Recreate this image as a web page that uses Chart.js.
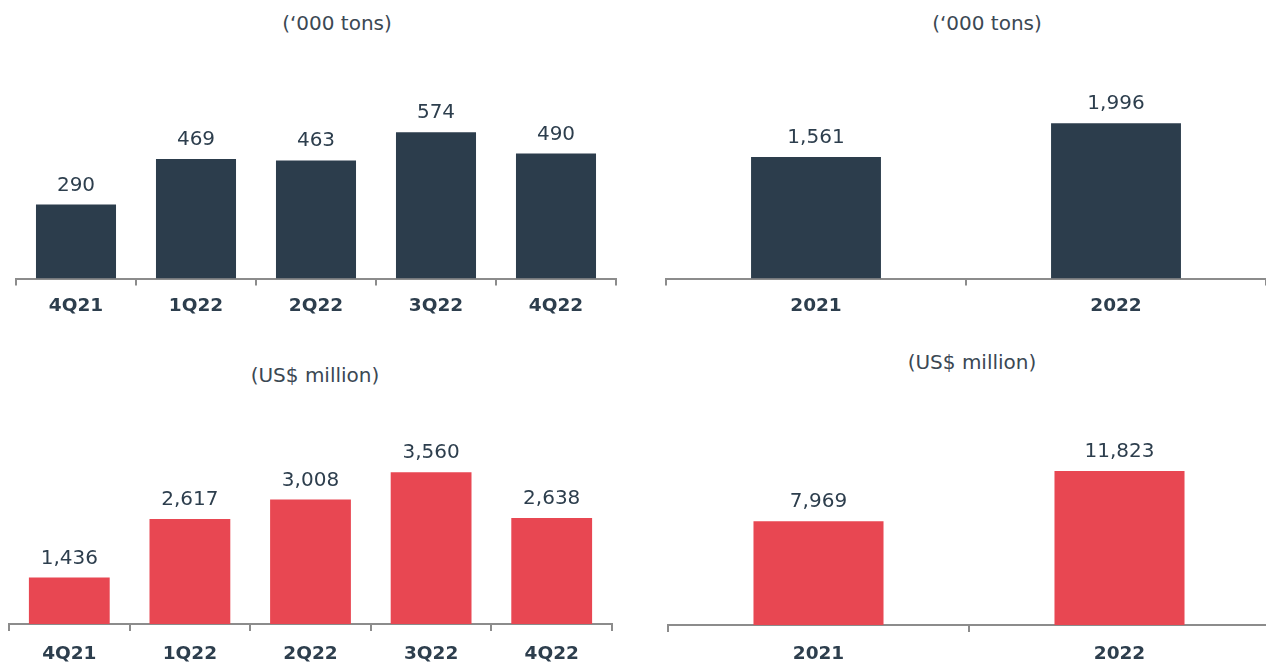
<!DOCTYPE html>
<html>
<head>
<meta charset="utf-8">
<script src="https://cdn.jsdelivr.net/npm/chart.js@4"></script>
<style>
  html, body { margin: 0; padding: 0; background: #fff; overflow: hidden; }
  body { width: 1266px; height: 663px; position: relative; font-family: "DejaVu Sans", sans-serif; }
  .wrap { position: absolute; }
  .title { position: absolute; transform: translate(-50%, -50%); white-space: nowrap; color: #3b4853; font-size: 20px; }
</style>
</head>
<body>
<script>
// ---------- data ----------
const quarters = ['4Q21', '1Q22', '2Q22', '3Q22', '4Q22'];
const years = ['2021', '2022'];
const volumeQuarterly = [290, 469, 463, 574, 490];
const volumeAnnual = [1561, 1996];
const revenueQuarterly = [1436, 2617, 3008, 3560, 2638];
const revenueAnnual = [7969, 11823];
const unitVolume = '(‘000 tons)';
const unitRevenue = '(US$ million)';

const navy = '#2c3d4c';
const red = '#e84752';
const textColor = '#2d3e4d';
const axisGray = '#8c8c8c';

// ---------- layout ----------
const panels = [
  { labels: quarters, values: volumeQuarterly, color: navy, title: unitVolume, titleX: 337, titleY: 23,
    x0: 16, x1: 616, axisY: 278.5, top: 125.5, min: 0, max: 600, bar: 0.667, pad: 10, canvas: [0, 50, 640, 290] },
  { labels: years, values: volumeAnnual, color: navy, title: unitVolume, titleX: 987, titleY: 23,
    x0: 666, x1: 1266, axisY: 278.5, top: 91.8, min: 0, max: 2400, bar: 0.433, pad: 10, canvas: [640, 50, 626, 290] },
  { labels: quarters, values: revenueQuarterly, color: red, title: unitRevenue, titleX: 315, titleY: 375,
    x0: 9, x1: 612, axisY: 624, top: 450.4, min: 500, max: 4000, bar: 0.67, pad: 12, canvas: [0, 395, 640, 268] },
  { labels: years, values: revenueAnnual, color: red, title: unitRevenue, titleX: 972, titleY: 362,
    x0: 668, x1: 1270, axisY: 625, top: 442.6, min: 0, max: 14000, bar: 0.432, pad: 11, canvas: [640, 395, 640, 268] },
];

const valueLabels = {
  id: 'valueLabels',
  afterDatasetsDraw(chart) {
    const ctx = chart.ctx;
    ctx.save();
    ctx.font = '400 20px "DejaVu Sans"';
    ctx.fillStyle = textColor;
    ctx.textAlign = 'center';
    ctx.textBaseline = 'alphabetic';
    chart.data.datasets.forEach((ds, di) => {
      chart.getDatasetMeta(di).data.forEach((el, i) => {
        ctx.fillText(ds.data[i].toLocaleString('en-US'), el.x, el.y - 14);
      });
    });
    ctx.restore();
  }
};

panels.forEach(p => {
  const [cl, ct, cw, ch] = p.canvas;
  const wrap = document.createElement('div');
  wrap.className = 'wrap';
  wrap.style.left = cl + 'px'; wrap.style.top = ct + 'px';
  wrap.style.width = cw + 'px'; wrap.style.height = ch + 'px';
  const cv = document.createElement('canvas');
  wrap.appendChild(cv);
  document.body.appendChild(wrap);

  const t = document.createElement('div');
  t.className = 'title';
  t.textContent = p.title;
  t.style.left = p.titleX + 'px'; t.style.top = p.titleY + 'px';
  document.body.appendChild(t);

  const axisH = ct + ch - p.axisY;
  new Chart(cv, {
    type: 'bar',
    data: {
      labels: p.labels,
      datasets: [{ data: p.values, backgroundColor: p.color, barPercentage: p.bar, categoryPercentage: 1 }]
    },
    options: {
      responsive: true, maintainAspectRatio: false, animation: false,
      layout: { padding: { left: p.x0 - cl, right: cl + cw - p.x1, top: p.top - ct, bottom: 0 } },
      plugins: { legend: { display: false }, tooltip: { enabled: false } },
      scales: {
        x: {
          afterFit(s) { s.height = axisH; },
          grid: { display: true, drawOnChartArea: false, drawTicks: true, tickLength: 7, color: axisGray, lineWidth: 2, offset: true },
          border: { display: true, color: axisGray, width: 2 },
          ticks: { color: textColor, padding: p.pad, font: { family: 'DejaVu Sans', size: 18.5, weight: 'bold' } }
        },
        y: { display: false, min: p.min, max: p.max }
      }
    },
    plugins: [valueLabels]
  });
});
</script>
</body>
</html>
